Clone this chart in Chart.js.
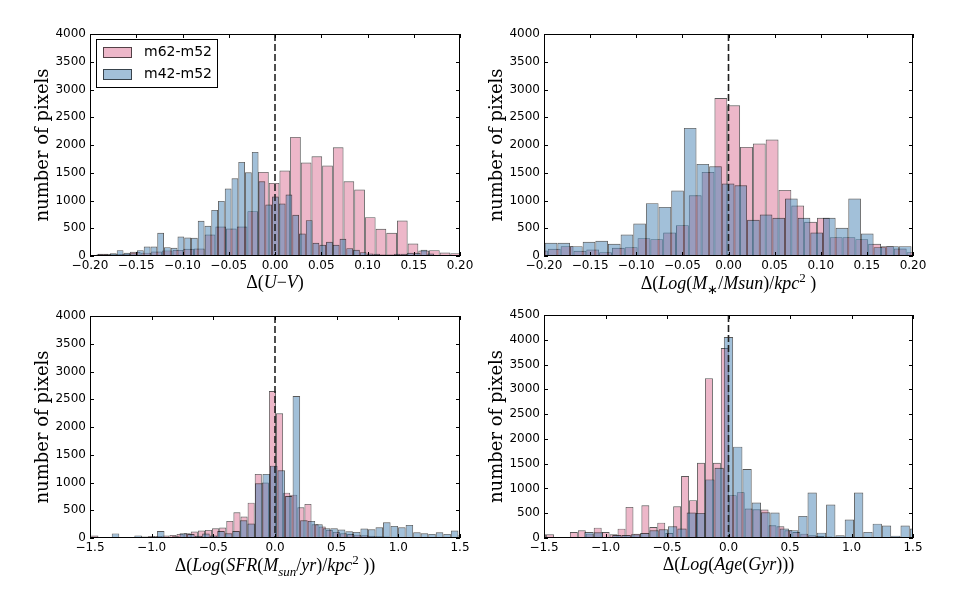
<!DOCTYPE html>
<html>
<head>
<meta charset="utf-8">
<title>Pixel differences</title>
<script src="https://cdn.jsdelivr.net/npm/chart.js@4.4.1/dist/chart.umd.min.js"></script>
<style>
  html, body { margin: 0; padding: 0; background: #fff; }
  body { width: 969px; height: 598px; position: relative; overflow: hidden; }
  .panel { position: absolute; height: 299px; }
</style>
</head>
<body>
<div class="panel" style="left:0;top:0;width:484px"><canvas id="uv"></canvas></div>
<div class="panel" style="left:484px;top:0;width:485px"><canvas id="mass"></canvas></div>
<div class="panel" style="left:0;top:299px;width:484px"><canvas id="sfr"></canvas></div>
<div class="panel" style="left:484px;top:299px;width:485px"><canvas id="age"></canvas></div>
<script>
'use strict';

const seriesNames = ['m62-m52', 'm42-m52'];

// histogram bins: first edge, bin width, counts per bin
const uvM62Start = -0.2031, uvM62Width = 0.01155;
const uvM62 = [20, 40, 30, 40, 75, 60, 80, 100, 110, 130, 135, 387, 530, 495, 531, 807, 1515, 1317,
  1539, 2145, 1683, 1797, 1629, 1959, 1347, 1197, 699, 489, 417, 639, 225, 99, 105, 63, 51];
const uvM42Start = -0.193, uvM42Width = 0.0073;
const uvM42 = [30, 30, 50, 105, 57, 50, 105, 171, 171, 417, 159, 147, 351, 333, 327, 633, 543, 831,
  993, 1215, 1401, 1695, 1509, 1875, 1347, 927, 1071, 945, 1107, 741, 405, 645, 237, 201, 255, 201,
  309, 141, 111, 69, 45, 39, 27, 27, 39, 39, 57, 57, 111, 45];

const massM62Start = -0.2097, massM62Width = 0.01389;
const massM62 = [99, 129, 177, 93, 117, 69, 147, 159, 321, 303, 423, 555, 1095, 1515, 2847, 2715,
  1965, 2025, 2097, 1191, 909, 615, 687, 339, 339, 303, 219, 177, 135, 69];
const massM42Start = -0.1992, massM42Width = 0.01371;
const massM42 = [237, 237, 177, 255, 273, 219, 387, 585, 951, 885, 1179, 2307, 1659, 1617, 1305,
  1275, 651, 747, 687, 1035, 687, 423, 687, 507, 1035, 405, 159, 177, 177];

const sfrM62Start = -1.547, sfrM62Width = 0.0576;
const sfrM62 = [62, 44, 20, 20, 15, 15, 15, 15, 26, 38, 38, 44, 56, 74, 86, 116, 134, 146, 176, 188,
  308, 464, 386, 637, 1154, 1000, 2648, 2246, 817, 780, 554, 614, 248, 206, 146, 110, 86, 70, 60, 50,
  40, 30, 25, 20, 15, 10, 10, 5, 5, 5];
const sfrM42Start = -1.507, sfrM42Width = 0.0611;
const sfrM42 = [20, 15, 10, 82, 10, 10, 46, 10, 15, 126, 20, 30, 85, 70, 40, 80, 45, 126, 86, 126,
  320, 260, 986, 1154, 1303, 1220, 757, 2558, 320, 308, 248, 176, 176, 152, 122, 110, 170, 158, 194,
  284, 218, 194, 236, 104, 86, 74, 104, 74, 134, 60];

const ageM62Start = -1.548, ageM62Width = 0.0646;
const ageM62 = [74, 74, 20, 20, 121, 155, 88, 209, 121, 74, 189, 628, 88, 661, 222, 310, 101, 641,
  1251, 763, 1518, 3226, 1518, 3833, 864, 924, 593, 580, 573, 256, 236, 155, 121, 88, 54, 40, 30, 20,
  15, 10, 10, 5, 5, 5, 3, 3, 3, 2, 2, 2];
const ageM42Start = -1.55, ageM42Width = 0.0756;
const ageM42 = [20, 20, 20, 20, 20, 121, 115, 20, 61, 61, 74, 101, 155, 175, 236, 190, 513, 506, 1181,
  1417, 4056, 1842, 1391, 716, 520, 513, 190, 157, 445, 918, 108, 675, 54, 371, 918, 122, 290, 250,
  47, 250, 190];

// axis ticks: [min, max, step]
const smallTicks = [-0.2, 0.2, 0.05];
const wideTicks = [-1.5, 1.5, 0.5];
const countTicks4000 = [0, 4000, 500];
const countTicks4500 = [0, 4500, 500];

const PINK = 'rgba(219,112,147,0.5)';
const BLUE = 'rgba(70,130,180,0.5)';
const EDGE = 'rgba(0,0,0,0.65)';

function bins(start, width, counts) {
  return counts.map((c, i) => ({ x: start + (i + 0.5) * width, y: c }));
}

function fmt(digits) {
  return v => (Math.abs(v) < 1e-9 ? 0 : v).toFixed(digits).replace('-', '\u2212');
}

function drawRich(ctx, segs, cx, y, size) {
  const fontFor = s => (s.it ? 'italic ' : '') + Math.round((s.sub || s.sup ? 0.7 : 1) * size) +
    'px "Liberation Serif", serif';
  let w = 0;
  segs.forEach(s => { ctx.font = fontFor(s); w += ctx.measureText(s.t).width; });
  let x = cx - w / 2;
  ctx.textAlign = 'left';
  ctx.textBaseline = 'alphabetic';
  ctx.fillStyle = '#000';
  segs.forEach(s => {
    ctx.font = fontFor(s);
    const dy = s.sub ? size * 0.25 : (s.sup ? -size * 0.4 : 0);
    ctx.fillText(s.t, x, y + dy);
    x += ctx.measureText(s.t).width;
  });
}

// frame, inward ticks, dashed zero line, math x label and legend box
const mplDecor = {
  id: 'mplDecor',
  afterDraw(chart) {
    const opts = chart.options.plugins.mplDecor;
    const { ctx, chartArea: a, scales } = chart;
    ctx.save();
    const x0 = scales.x.getPixelForValue(0);
    ctx.strokeStyle = '#222';
    ctx.lineWidth = 1.6;
    ctx.setLineDash([7, 3]);
    ctx.beginPath();
    ctx.moveTo(x0, a.top);
    ctx.lineTo(x0, a.bottom);
    ctx.stroke();
    ctx.setLineDash([]);

    ctx.strokeStyle = '#000';
    ctx.lineWidth = 1;
    ctx.strokeRect(a.left + 0.5, a.top + 0.5, a.right - a.left - 1, a.bottom - a.top - 1);
    ctx.beginPath();
    scales.x.ticks.forEach(t => {
      const px = Math.round(scales.x.getPixelForValue(t.value)) + 0.5;
      ctx.moveTo(px, a.bottom); ctx.lineTo(px, a.bottom - 4);
      ctx.moveTo(px, a.top); ctx.lineTo(px, a.top + 4);
    });
    scales.y.ticks.forEach(t => {
      const py = Math.round(scales.y.getPixelForValue(t.value)) + 0.5;
      ctx.moveTo(a.left, py); ctx.lineTo(a.left + 4, py);
      ctx.moveTo(a.right, py); ctx.lineTo(a.right - 4, py);
    });
    ctx.stroke();

    drawRich(ctx, opts.xLabel, (a.left + a.right) / 2, a.bottom + opts.labelDrop, 18);

    if (opts.legend) {
      const lx = a.left + 6.5, ly = a.top + 5.5;
      ctx.fillStyle = '#fff';
      ctx.fillRect(lx, ly, 121, 48);
      ctx.strokeStyle = '#000';
      ctx.strokeRect(lx, ly, 121, 48);
      const rows = [[seriesNames[0], PINK], [seriesNames[1], BLUE]];
      rows.forEach((r, i) => {
        const cy = a.top + 18.5 + i * 22;
        ctx.fillStyle = r[1];
        ctx.fillRect(a.left + 13, cy - 5.5, 29, 11);
        ctx.strokeStyle = EDGE;
        ctx.strokeRect(a.left + 13.5, cy - 5, 28, 10);
        ctx.fillStyle = '#000';
        ctx.font = '14px "DejaVu Sans"';
        ctx.textAlign = 'left';
        ctx.textBaseline = 'middle';
        ctx.fillText(r[0], a.left + 54, cy);
      });
    }
    ctx.restore();
  }
};

function makePanel(id, p) {
  const W = p.w, H = 299;
  new Chart(document.getElementById(id), {
    type: 'bar',
    data: {
      datasets: [
        { label: seriesNames[1], data: p.blue, xAxisID: 'xb', backgroundColor: BLUE, borderColor: EDGE, order: 0 },
        { label: seriesNames[0], data: p.pink, xAxisID: 'x', backgroundColor: PINK, borderColor: EDGE, order: 1 }
      ]
    },
    options: {
      responsive: true,
      maintainAspectRatio: false,
      animation: false,
      layout: { padding: { left: p.left - 57.8, right: W - p.right, top: p.top, bottom: H - p.bottom - 40 } },
      datasets: {
        bar: { barPercentage: 1, categoryPercentage: 1, grouped: false, borderWidth: 0.9,
          borderSkipped: false, inflateAmount: 0 }
      },
      scales: {
        x: {
          type: 'linear', min: p.xt[0], max: p.xt[1], offset: false,
          grid: { display: false, drawTicks: false, offset: false },
          border: { display: false },
          ticks: { stepSize: p.xt[2], callback: fmt(p.digits), autoSkip: false, maxRotation: 0,
            padding: 3, color: '#000', font: { family: 'DejaVu Sans', size: 12 } },
          afterFit: s => { s.height = 40; }
        },
        xb: {
          type: 'linear', min: p.xt[0], max: p.xt[1], offset: false, display: false,
          grid: { offset: false }
        },
        y: {
          min: p.yt[0], max: p.yt[1],
          grid: { display: false, drawTicks: false },
          border: { display: false },
          ticks: { stepSize: p.yt[2], padding: 4, color: '#000', callback: v => String(v),
            font: { family: 'DejaVu Sans', size: 12 } },
          title: { display: true, text: 'number of pixels', color: '#000', padding: 0,
            font: { family: 'DejaVu Serif', size: 18, lineHeight: 1.2 } },
          afterFit: s => { s.width = 57.8; }
        }
      },
      plugins: {
        legend: { display: false },
        tooltip: { enabled: false },
        mplDecor: { xLabel: p.xLabel, labelDrop: p.drop, legend: !!p.legend }
      }
    },
    plugins: [mplDecor]
  });
}

makePanel('uv', {
  w: 484, left: 90, right: 460, top: 34, bottom: 256, xt: smallTicks, yt: countTicks4000, digits: 2,
  pink: bins(uvM62Start, uvM62Width, uvM62), blue: bins(uvM42Start, uvM42Width, uvM42), legend: true,
  drop: 32,
  xLabel: [{ t: 'Δ(' }, { t: 'U', it: 1 }, { t: '−' }, { t: 'V', it: 1 }, { t: ')' }]
});
makePanel('mass', {
  w: 485, left: 60, right: 429, top: 34, bottom: 256, xt: smallTicks, yt: countTicks4000, digits: 2,
  pink: bins(massM62Start, massM62Width, massM62), blue: bins(massM42Start, massM42Width, massM42),
  drop: 33,
  xLabel: [{ t: 'Δ(' }, { t: 'Log', it: 1 }, { t: '(' }, { t: 'M', it: 1 }, { t: '∗', sub: 1 }, { t: '/' },
    { t: 'Msun', it: 1 }, { t: ')/' }, { t: 'kpc', it: 1 }, { t: '2', sup: 1 }, { t: ' )' }]
});
makePanel('sfr', {
  w: 484, left: 90, right: 460, top: 17, bottom: 239, xt: wideTicks, yt: countTicks4000, digits: 1,
  pink: bins(sfrM62Start, sfrM62Width, sfrM62), blue: bins(sfrM42Start, sfrM42Width, sfrM42),
  drop: 33,
  xLabel: [{ t: 'Δ(' }, { t: 'Log', it: 1 }, { t: '(' }, { t: 'SFR', it: 1 }, { t: '(' }, { t: 'M', it: 1 },
    { t: 'sun', it: 1, sub: 1 }, { t: '/' }, { t: 'yr', it: 1 }, { t: ')/' }, { t: 'kpc', it: 1 },
    { t: '2', sup: 1 }, { t: ' ))' }]
});
makePanel('age', {
  w: 485, left: 60, right: 429, top: 16, bottom: 239, xt: wideTicks, yt: countTicks4500, digits: 1,
  pink: bins(ageM62Start, ageM62Width, ageM62), blue: bins(ageM42Start, ageM42Width, ageM42),
  drop: 32,
  xLabel: [{ t: 'Δ(' }, { t: 'Log', it: 1 }, { t: '(' }, { t: 'Age', it: 1 }, { t: '(' }, { t: 'Gyr', it: 1 },
    { t: ')))' }]
});
</script>
</body>
</html>
